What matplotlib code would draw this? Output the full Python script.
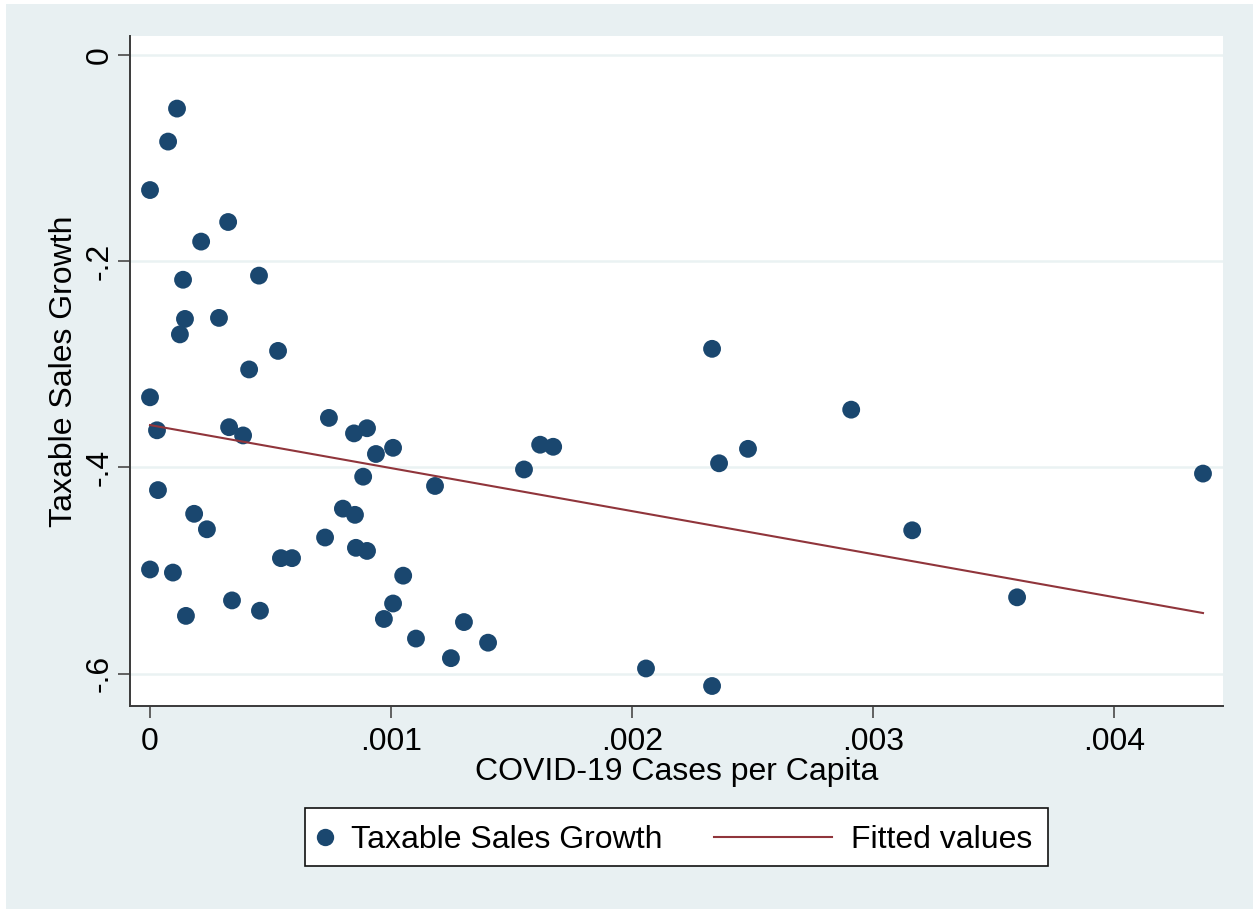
import numpy as np
import matplotlib
matplotlib.use("Agg")
import matplotlib.pyplot as plt
from matplotlib.patches import Rectangle
from matplotlib.lines import Line2D

plt.rcParams['font.family'] = ['Liberation Sans', 'DejaVu Sans']

# COVID-19 cases per capita (x) and taxable sales growth (y), one entry per county
cases_per_capita = [
    0.000112, 0.000075, 0.0, 0.000324, 0.000212, 0.000452, 0.000137, 0.000145,
    0.000286, 0.000124, 0.000531, 0.000411, 0.0, 0.000029, 0.000328, 0.000386,
    0.000742, 0.000846, 0.000900, 0.000937, 0.001008, 0.000033, 0.000183, 0.000236,
    0.0, 0.000095, 0.000149, 0.000340, 0.000456, 0.000543, 0.000589, 0.000726,
    0.000800, 0.000850, 0.000884, 0.000854, 0.000900, 0.001050, 0.001008, 0.000970,
    0.001103, 0.001248, 0.001302, 0.001402, 0.001182, 0.001551, 0.001618, 0.001672,
    0.002057, 0.002331, 0.002331, 0.002360, 0.002480, 0.002908, 0.003161, 0.003596,
    0.004367,
]
sales_growth = [
    -0.052, -0.084, -0.131, -0.162, -0.181, -0.214, -0.218, -0.256,
    -0.255, -0.271, -0.287, -0.305, -0.332, -0.364, -0.361, -0.369,
    -0.352, -0.367, -0.362, -0.387, -0.381, -0.422, -0.445, -0.460,
    -0.499, -0.502, -0.544, -0.529, -0.539, -0.488, -0.488, -0.468,
    -0.440, -0.446, -0.409, -0.478, -0.481, -0.505, -0.532, -0.547,
    -0.566, -0.585, -0.550, -0.570, -0.418, -0.402, -0.378, -0.380,
    -0.595, -0.612, -0.285, -0.396, -0.382, -0.344, -0.461, -0.526,
    -0.406,
]

x_ticks = [0, 0.001, 0.002, 0.003, 0.004]
x_tick_labels = ["0", ".001", ".002", ".003", ".004"]
y_ticks = [0, -0.2, -0.4, -0.6]
y_tick_labels = ["0", "-.2", "-.4", "-.6"]

W, H = 1253, 909
BG = "#E8F0F2"
NAVY = "#1A476F"
MAROON = "#90353B"
FS = 23

fig = plt.figure(figsize=(W / 100, H / 100), dpi=100, facecolor="white")


def fx(px):
    return px / W


def fy(py):
    return 1 - py / H


# graph region background (thin white margin on the left and top)
fig.add_artist(Rectangle((fx(6), 0), 1 - fx(6), fy(4), transform=fig.transFigure,
                         facecolor=BG, edgecolor="none", zorder=-10))

left, right, top, bottom = 130, 1223, 36, 706
ax = fig.add_axes([fx(left), fy(bottom), fx(right) - fx(left), fy(top) - fy(bottom)])
ax.set_facecolor("white")

x = np.array(cases_per_capita)
y = np.array(sales_growth)

# linear fit over the observed range
slope, intercept = np.polyfit(x, y, 1)
xf = np.array([x.min(), x.max()])
yf = intercept + slope * xf

ax.scatter(x, y, s=165, color=NAVY, edgecolors="none", zorder=3)
ax.plot(xf, yf, color=MAROON, lw=1.5, zorder=4)

ax.set_xlim(-0.000083, 0.00445)
ax.set_ylim(-0.6314, 0.0184)

ax.set_xticks(x_ticks)
ax.set_xticklabels(x_tick_labels, fontsize=FS)
ax.set_yticks(y_ticks)
ax.set_yticklabels(y_tick_labels, fontsize=FS, rotation=90, va="center")

ax.yaxis.grid(True, color="#EAF2F3", lw=1.8, zorder=0)
ax.xaxis.grid(False)
ax.set_axisbelow(True)

for s in ("top", "right"):
    ax.spines[s].set_visible(False)
for s in ("left", "bottom"):
    ax.spines[s].set_color("#3a3a3a")
    ax.spines[s].set_linewidth(1.4)

ax.tick_params(axis="both", direction="out", length=8.8, width=1.3, color="#555555")
ax.tick_params(axis="x", pad=6.0)
ax.tick_params(axis="y", pad=2.5)

ax.set_xlabel("COVID-19 Cases per Capita", fontsize=FS)
ax.set_ylabel("Taxable Sales Growth", fontsize=FS)
ax.xaxis.set_label_coords(0.5, (bottom - 757) / (bottom - top))
ax.yaxis.set_label_coords((79 - left) / (right - left), 0.5)

# legend
lx0, lx1, ly0, ly1 = 305, 1048, 808, 866
fig.add_artist(Rectangle((fx(lx0), fy(ly1)), fx(lx1) - fx(lx0), fy(ly0) - fy(ly1),
                         transform=fig.transFigure, facecolor="white",
                         edgecolor="#111111", lw=1.2, zorder=5))
fig.add_artist(Line2D([fx(325)], [fy(837)], transform=fig.transFigure, marker="o",
                      markersize=12.5, color=NAVY, markeredgewidth=0, ls="none", zorder=6))
fig.text(fx(351), fy(848), "Taxable Sales Growth", fontsize=FS, va="baseline",
         ha="left", zorder=6)
fig.add_artist(Line2D([fx(714), fx(832)], [fy(837), fy(837)], transform=fig.transFigure,
                      color=MAROON, lw=1.5, zorder=6))
fig.text(fx(851), fy(848), "Fitted values", fontsize=FS, va="baseline", ha="left",
         zorder=6)

fig.savefig("out.png", dpi=100, facecolor=fig.get_facecolor())
